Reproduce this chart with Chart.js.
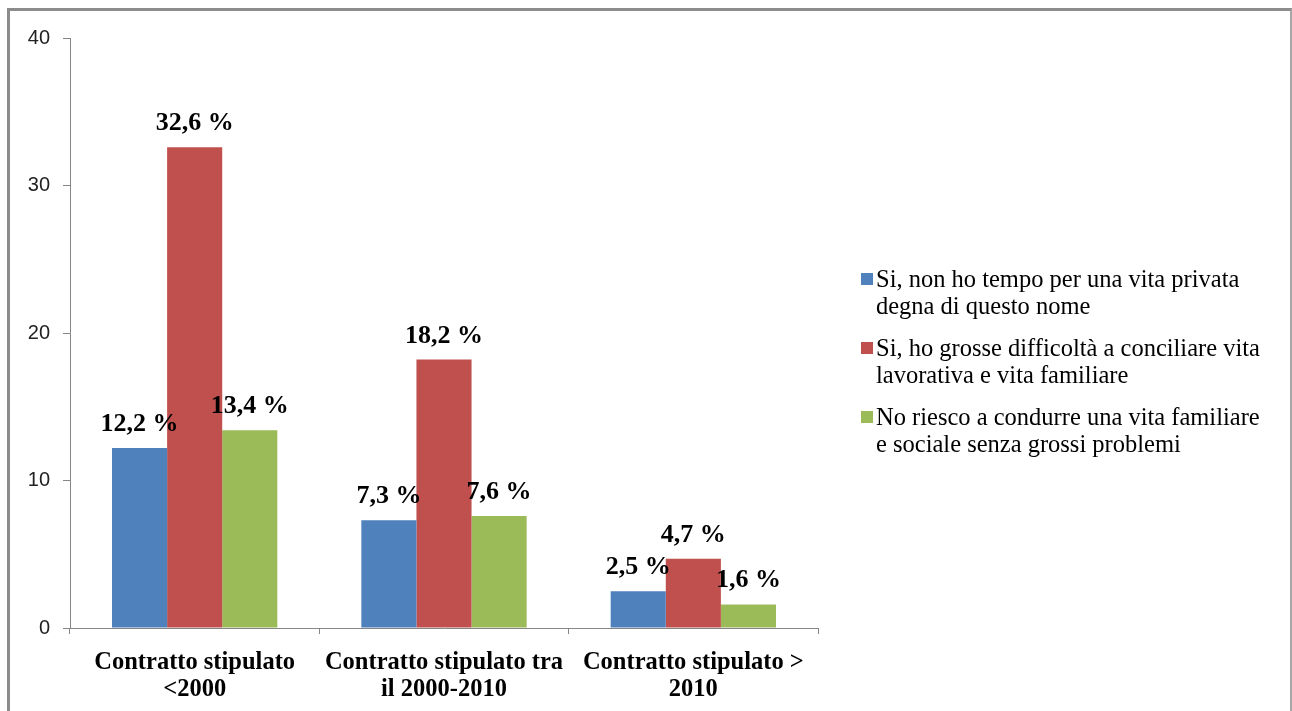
<!DOCTYPE html>
<html>
<head>
<meta charset="utf-8">
<script src="https://cdn.jsdelivr.net/npm/chart.js@4.4.1/dist/chart.umd.min.js"></script>
<style>
  html, body { margin: 0; padding: 0; background: #fff; overflow: hidden; }
  #wrap { position: absolute; left: 0; top: 0; width: 1292px; height: 711px; }
  #frame { position: absolute; left: 7px; top: 8px; width: 1280px; height: 740px;
           border-left: 3px solid #8c8c8c; border-top: 3px solid #8c8c8c; border-right: 2px solid #a6a6a6;
           pointer-events: none; }
</style>
</head>
<body>
<div id="wrap"><canvas id="c"></canvas></div>
<div id="frame"></div>
<script>
const categories = [
  ["Contratto stipulato", "<2000"],
  ["Contratto stipulato tra", "il 2000-2010"],
  ["Contratto stipulato >", "2010"]
];
const seriesNames = [
  "Si, non ho tempo per una vita privata degna di questo nome",
  "Si, ho grosse difficoltà a conciliare vita lavorativa e vita familiare",
  "No riesco a condurre una vita familiare e sociale senza grossi problemi"
];
const legendLines = [
  ["Si, non ho tempo per una vita privata", "degna di questo nome"],
  ["Si, ho grosse difficoltà a conciliare vita", "lavorativa e vita familiare"],
  ["No riesco a condurre una vita familiare", "e sociale senza grossi problemi"]
];
const seriesBlue = [12.2, 7.3, 2.5];
const seriesRed = [32.6, 18.2, 4.7];
const seriesGreen = [13.4, 7.6, 1.6];
const yTicks = [0, 10, 20, 30, 40];
const colors = ["#4F81BD", "#C0504D", "#9BBB59"];

const valueLabels = {
  id: 'valueLabels',
  afterDatasetsDraw(chart) {
    const ctx = chart.ctx;
    ctx.save();
    ctx.font = "bold 26px 'Liberation Serif', 'Times New Roman', serif";
    ctx.fillStyle = "#000";
    ctx.textAlign = "center";
    ctx.textBaseline = "alphabetic";
    chart.data.datasets.forEach((ds, di) => {
      const meta = chart.getDatasetMeta(di);
      meta.data.forEach((bar, i) => {
        const v = ds.data[i];
        const txt = v.toFixed(1).replace('.', ',') + " %";
        ctx.fillText(txt, bar.x, bar.y - 17);
      });
    });
    ctx.restore();
  }
};

const customLegend = {
  id: 'customLegend',
  afterDraw(chart) {
    const ctx = chart.ctx;
    ctx.save();
    ctx.font = "24.5px 'Liberation Serif', 'Times New Roman', serif";
    ctx.textAlign = "left";
    ctx.textBaseline = "alphabetic";
    const baseY = [287, 356, 425];
    chart.data.datasets.forEach((ds, di) => {
      const y = baseY[di];
      ctx.fillStyle = ds.backgroundColor;
      ctx.fillRect(861, y - 14, 12, 12);
      ctx.fillStyle = "#000";
      legendLines[di].forEach((line, li) => {
        ctx.fillText(line, 876, y + li * 27);
      });
    });
    ctx.restore();
  }
};

new Chart(document.getElementById('c'), {
  type: 'bar',
  data: {
    labels: categories,
    datasets: [
      { label: seriesNames[0], data: seriesBlue, backgroundColor: colors[0] },
      { label: seriesNames[1], data: seriesRed, backgroundColor: colors[1] },
      { label: seriesNames[2], data: seriesGreen, backgroundColor: colors[2] }
    ]
  },
  options: {
    responsive: true,
    maintainAspectRatio: false,
    animation: false,
    layout: { padding: { left: 0, top: 38, right: 474, bottom: 0 } },
    plugins: { legend: { display: false }, tooltip: { enabled: false } },
    datasets: { bar: { categoryPercentage: 0.663, barPercentage: 1.0 } },
    scales: {
      x: {
        offset: true,
        grid: { offset: true, drawOnChartArea: false, drawTicks: true, tickLength: 6, color: "#868686" },
        border: { display: true, color: "#868686", width: 1 },
        ticks: {
          color: "#000",
          padding: 15,
          maxRotation: 0,
          autoSkip: false,
          font: { family: "'Liberation Serif', 'Times New Roman', serif", size: 24.5, weight: 'bold', lineHeight: 1.1 }
        },
        afterFit(scale) { scale.height = 83; }
      },
      y: {
        min: 0,
        max: 40,
        afterBuildTicks(scale) { scale.ticks = yTicks.map(v => ({ value: v })); },
        grid: { drawOnChartArea: false, drawTicks: true, tickLength: 7, color: "#868686" },
        border: { display: true, color: "#868686", width: 1 },
        ticks: {
          color: "#222",
          padding: 13,
          font: { family: "'Liberation Sans', Arial, sans-serif", size: 20 }
        },
        afterFit(scale) { scale.width = 70; }
      }
    }
  },
  plugins: [valueLabels, customLegend]
});
</script>
</body>
</html>
